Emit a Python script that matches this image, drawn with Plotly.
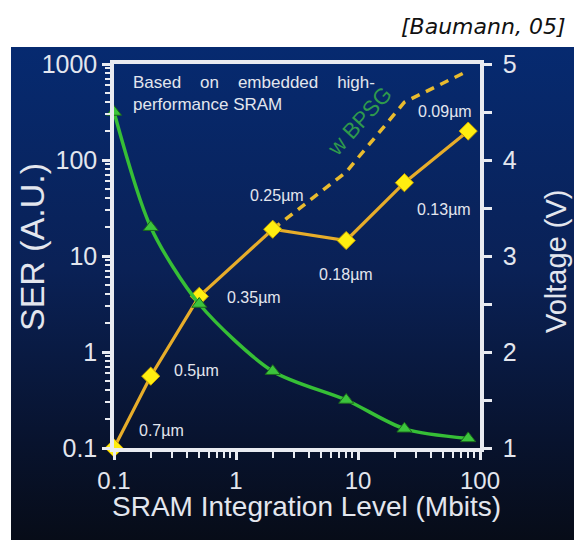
import base64
import math
import plotly.graph_objects as go

# ---------------- data ----------------
mbits = [0.1, 0.2, 0.5, 2, 8, 24, 80]
ser_system = [0.1, 0.56, 3.8, 19, 14.5, 58, 200]
voltage = [4.5, 3.3, 2.5, 1.8, 1.5, 1.2, 1.1]
node_labels = ["0.7\u00b5m", "0.5\u00b5m", "0.35\u00b5m", "0.25\u00b5m", "0.18\u00b5m", "0.13\u00b5m", "0.09\u00b5m"]
bpsg_mbits = [2, 8, 24, 80]
bpsg_ser = [19, 75, 400, 850]

x_tickvals = [0.1, 1, 10, 100]
x_ticktext = ["0.1", "1", "10", "100"]
y_tickvals = [0.1, 1, 10, 100, 1000]
y_ticktext = ["0.1", "1", "10", "100", "1000"]
v_tickvals = [1, 2, 3, 4, 5]
v_ticktext = ["1", "2", "3", "4", "5"]
v_minor = [1.5, 2.5, 3.5, 4.5]

# ---------------- layout geometry ----------------
W, H = 574, 540
L, R, T, B = 114, 94, 64, 92
PW, PH = W - L - R, H - T - B


def px(x):
    return (x - L) / PW


def py(y):
    return (H - B - y) / PH


AXC = "#e9ebf1"
TXT = "#e3e6ee"
FONT = "Liberation Sans, Arial, sans-serif"


def log_minor(lo, hi):
    vals = []
    d = lo
    while d < hi:
        vals += [d * k for k in range(2, 10)]
        d *= 10
    return vals


x_minor = log_minor(0.1, 100)
y_minor = log_minor(0.1, 1000)

fig = go.Figure()

fig.add_trace(go.Scatter(
    x=mbits, y=voltage, yaxis="y2", mode="lines+markers",
    line=dict(color="#36bf36", width=3.5, shape="spline", smoothing=0.8),
    marker=dict(symbol="triangle-up", size=13, color="#3cc43c",
                line=dict(color="#1c6a1c", width=1)),
    cliponaxis=False, showlegend=False, hoverinfo="skip"))

fig.add_trace(go.Scatter(
    x=bpsg_mbits, y=bpsg_ser, mode="lines",
    line=dict(color="#e9bb2e", width=3.5, dash="9px,7px"),
    cliponaxis=False, showlegend=False, hoverinfo="skip"))

fig.add_trace(go.Scatter(
    x=mbits, y=ser_system, mode="lines+markers",
    line=dict(color="#e7ad2a", width=3.2),
    marker=dict(symbol="diamond", size=14, color="#ffee10",
                line=dict(color="#c9a200", width=1)),
    cliponaxis=False, showlegend=False, hoverinfo="skip"))

# background gradient image
svg = ('<svg xmlns="http://www.w3.org/2000/svg" width="563" height="493" '
       'preserveAspectRatio="none"><defs><linearGradient id="g" x1="0" y1="0" x2="0" y2="1">'
       '<stop offset="0" stop-color="#062a70"/><stop offset="0.45" stop-color="#0a2156"/>'
       '<stop offset="0.8" stop-color="#08132e"/><stop offset="1" stop-color="#070c18"/>'
       '</linearGradient></defs><rect width="563" height="493" fill="url(#g)"/></svg>')
src = "data:image/svg+xml;base64," + base64.b64encode(svg.encode()).decode()

fig.add_layout_image(dict(source=src, xref="paper", yref="paper",
                          x=px(11), y=py(47), sizex=(W - 11) / PW, sizey=(H - 47) / PH,
                          xanchor="left", yanchor="top", sizing="stretch", layer="below"))

tickfont = dict(family=FONT, size=25, color=TXT)
xtickfont = dict(family=FONT, size=24, color=TXT)

common_log_x = dict(type="log", range=[-1, 2], showgrid=False, zeroline=False)
common_log_y = dict(type="log", range=[-1, 3], showgrid=False, zeroline=False)

fig.update_layout(
    width=W, height=H,
    margin=dict(l=L, r=R, t=T, b=B),
    paper_bgcolor="white", plot_bgcolor="rgba(0,0,0,0)",
    xaxis=dict(**common_log_x, showline=True, linecolor=AXC, linewidth=3.5, mirror=True,
               ticks="outside", ticklen=8, tickwidth=3, tickcolor=AXC,
               tickvals=x_tickvals, ticktext=x_ticktext, tickfont=xtickfont,
               ticklabelstandoff=0,
               minor=dict(tickvals=x_minor, ticks="outside", ticklen=6, tickwidth=2, tickcolor=AXC)),
    yaxis=dict(**common_log_y, showline=True, linecolor=AXC, linewidth=3.5,
               ticks="outside", ticklen=8, tickwidth=3, tickcolor=AXC,
               tickvals=y_tickvals, ticktext=y_ticktext, tickfont=tickfont,
               ticklabelstandoff=0,
               minor=dict(tickvals=y_minor, ticks="outside", ticklen=5, tickwidth=2, tickcolor=AXC)),
    yaxis2=dict(range=[1, 5], overlaying="y", side="right", anchor="x",
                showgrid=False, zeroline=False, showline=True, linecolor=AXC, linewidth=3.5,
                ticks="outside", ticklen=8, tickwidth=3, tickcolor=AXC,
                tickvals=v_tickvals, ticktext=v_ticktext, tickfont=tickfont,
                ticklabelstandoff=6,
                minor=dict(tickvals=v_minor, ticks="outside", ticklen=8, tickwidth=3, tickcolor=AXC)),
    # overlay axes drawing the inner half of the crossing major ticks
    xaxis2=dict(**common_log_x, overlaying="x", anchor="y", side="bottom", showline=False,
                ticks="inside", ticklen=8, tickwidth=3, tickcolor=AXC,
                tickvals=x_tickvals, showticklabels=False),
    yaxis3=dict(**common_log_y, overlaying="y", anchor="x", side="left", showline=False,
                ticks="inside", ticklen=8, tickwidth=3, tickcolor=AXC,
                tickvals=y_tickvals, showticklabels=False),
    yaxis4=dict(range=[1, 5], overlaying="y", anchor="x", side="right", showline=False,
                showgrid=False, zeroline=False,
                ticks="inside", ticklen=8, tickwidth=3, tickcolor=AXC,
                tickvals=v_tickvals, showticklabels=False),
)

ann = []
C = dict(xanchor="center", yanchor="middle", xref="paper", yref="paper", showarrow=False)
# axis titles
ann.append(dict(text="SRAM Integration Level (Mbits)", x=px(306), y=py(506), **C,
                font=dict(family=FONT, size=28, color=TXT)))
ann.append(dict(text="SER (A.U.)", x=px(32), y=py(247), textangle=-90, **C,
                font=dict(family=FONT, size=34, color=TXT)))
ann.append(dict(text="Voltage (V)", x=px(556), y=py(262), textangle=-90, **C,
                font=dict(family=FONT, size=29, color=TXT)))
# citation
ann.append(dict(text="<i>[Baumann, 05]</i>", x=px(567), y=py(26), xref="paper", yref="paper",
                xanchor="right", yanchor="middle", showarrow=False,
                font=dict(family="DejaVu Sans", size=22, color="#111111")))
# note
nb = "\u00a0" * 4
ann.append(dict(text=f"Based{nb}on{nb}embedded{nb}high-<br>performance SRAM", x=px(131), y=py(71),
                xref="paper", yref="paper", xanchor="left", yanchor="top", align="left",
                showarrow=False, font=dict(family=FONT, size=17, color=TXT)))
ann.append(dict(text="w BPSG", x=px(359), y=py(121), textangle=-48, **C,
                font=dict(family=FONT, size=22, color="#2f9a4c")))
# node labels (offsets in pixels from each point; log axes take log10 positions)
offsets = [(47, 18), (46, 6), (55, -1), (4, 34), (0, -34), (40, -27), (-23, 20)]
for lab, xv, yv, (dx, dy) in zip(node_labels, mbits, ser_system, offsets):
    ann.append(dict(text=lab, x=math.log10(xv), y=math.log10(yv), xref="x", yref="y",
                    xshift=dx, yshift=dy, xanchor="center", yanchor="middle",
                    showarrow=False, font=dict(family=FONT, size=16, color=TXT)))
for a in ann:
    fig.add_annotation(**a)

fig.write_html("out.html", config={"displayModeBar": False},
               post_script="document.body.style.margin='0';")
